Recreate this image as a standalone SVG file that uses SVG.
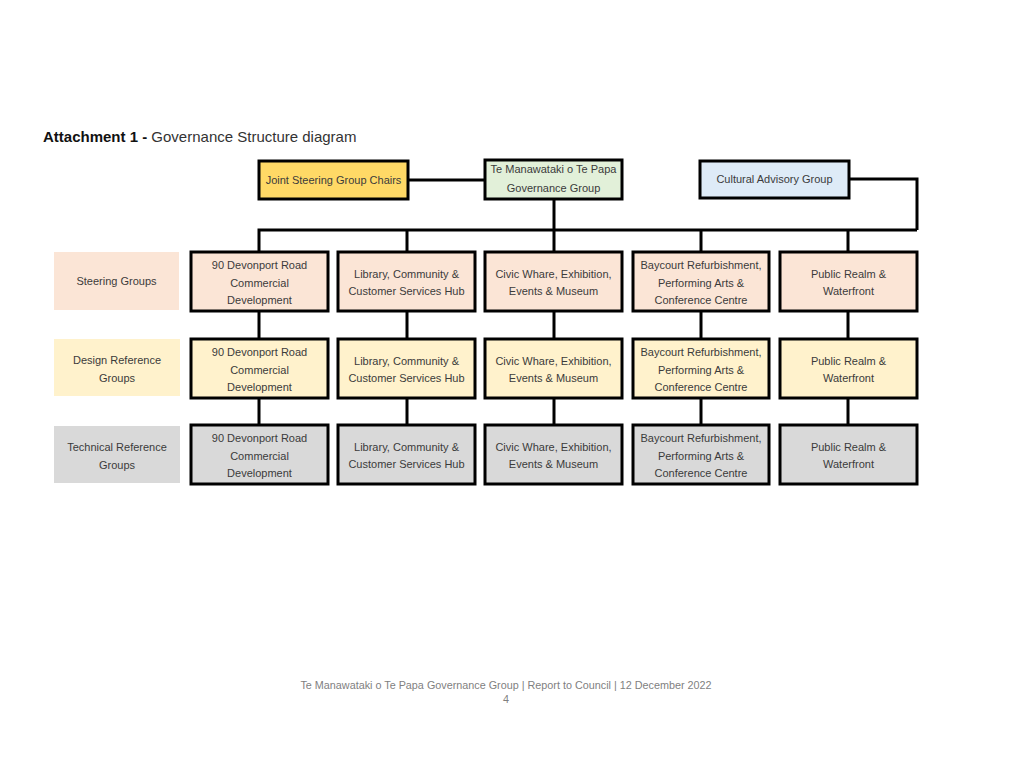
<svg xmlns="http://www.w3.org/2000/svg" width="1013" height="782" viewBox="0 0 1013 782">
<style>
.box{stroke:#000;stroke-width:3}
.lbl{stroke:none}
.st{fill:#FBE5D6}
.ds{fill:#FFF2CC}
.tc{fill:#D9D9D9}
.t{font-family:"Liberation Sans",Arial,sans-serif;font-size:11px;fill:#3b3b3b;text-anchor:middle}
.conn{fill:none;stroke:#000;stroke-width:3;stroke-linejoin:miter}
.foot{font-family:"Liberation Sans",Arial,sans-serif;font-size:10.8px;fill:#7f7f7f;text-anchor:middle}
</style>
<rect width="1013" height="782" fill="#fff"/>
<text x="43" y="142" font-family="Liberation Sans,Arial,sans-serif" font-size="15" fill="#000"><tspan font-weight="bold" fill="#111">Attachment 1 -</tspan><tspan fill="#333"> Governance Structure diagram</tspan></text>

<g id="connectors">
<path class="conn" d="M408 180H485"/>
<path class="conn" d="M554 199V230"/>
<path class="conn" d="M849 179H917V230"/>
<path class="conn" d="M259 252V230H917"/>
<path class="conn" d="M407 230V252M554 230V252M701 230V252M848 230V252"/>
<path class="conn" d="M259 311V339M407 311V339M554 311V339M701 311V339M848 311V339"/>
<path class="conn" d="M259 398V425M407 398V425M554 398V425M701 398V425M848 398V425"/>
</g>

<g id="joint-steering">
<rect class="box" x="259" y="161" width="149" height="38" fill="#FFD966"/>
<text class="t" x="333.5" y="184">Joint Steering Group Chairs</text>
</g>
<g id="governance-group">
<rect class="box" x="485" y="160" width="137" height="39" fill="#E2F0D9"/>
<text class="t" x="553.5" y="173">Te Manawataki o Te Papa</text>
<text class="t" x="553.5" y="192">Governance Group</text>
</g>
<g id="cultural-advisory">
<rect class="box" x="700" y="161" width="149" height="37" fill="#DEEBF7"/>
<text class="t" x="774.5" y="183">Cultural Advisory Group</text>
</g>

<g id="label-steering">
<rect class="lbl st" x="54" y="252" width="125" height="58"/>
<text class="t" x="116.5" y="285">Steering Groups</text>
</g>
<g id="label-design">
<rect class="lbl ds" x="54" y="339" width="126" height="57"/>
<text class="t" x="117" y="364">Design Reference</text>
<text class="t" x="117" y="382">Groups</text>
</g>
<g id="label-technical">
<rect class="lbl tc" x="54" y="426" width="126" height="57"/>
<text class="t" x="117" y="451">Technical Reference</text>
<text class="t" x="117" y="469">Groups</text>
</g>

<!-- Steering row -->
<g id="steer-90-devonport">
<rect class="box st" x="191" y="252" width="137" height="59"/>
<text class="t" x="259.5" y="269">90 Devonport Road</text>
<text class="t" x="259.5" y="286.5">Commercial</text>
<text class="t" x="259.5" y="304">Development</text>
</g>
<g id="steer-library">
<rect class="box st" x="338" y="252" width="137" height="59"/>
<text class="t" x="406.5" y="278">Library, Community &amp;</text>
<text class="t" x="406.5" y="295">Customer Services Hub</text>
</g>
<g id="steer-civic">
<rect class="box st" x="485" y="252" width="137" height="59"/>
<text class="t" x="553.5" y="278">Civic Whare, Exhibition,</text>
<text class="t" x="553.5" y="295">Events &amp; Museum</text>
</g>
<g id="steer-baycourt">
<rect class="box st" x="633" y="252" width="136" height="59"/>
<text class="t" x="701" y="269">Baycourt Refurbishment,</text>
<text class="t" x="701" y="286.5">Performing Arts &amp;</text>
<text class="t" x="701" y="304">Conference Centre</text>
</g>
<g id="steer-public-realm">
<rect class="box st" x="780" y="252" width="137" height="59"/>
<text class="t" x="848.5" y="278">Public Realm &amp;</text>
<text class="t" x="848.5" y="295">Waterfront</text>
</g>

<!-- Design row -->
<g id="design-90-devonport">
<rect class="box ds" x="191" y="339" width="137" height="59"/>
<text class="t" x="259.5" y="356">90 Devonport Road</text>
<text class="t" x="259.5" y="373.5">Commercial</text>
<text class="t" x="259.5" y="391">Development</text>
</g>
<g id="design-library">
<rect class="box ds" x="338" y="339" width="137" height="59"/>
<text class="t" x="406.5" y="365">Library, Community &amp;</text>
<text class="t" x="406.5" y="382">Customer Services Hub</text>
</g>
<g id="design-civic">
<rect class="box ds" x="485" y="339" width="137" height="59"/>
<text class="t" x="553.5" y="365">Civic Whare, Exhibition,</text>
<text class="t" x="553.5" y="382">Events &amp; Museum</text>
</g>
<g id="design-baycourt">
<rect class="box ds" x="633" y="339" width="136" height="59"/>
<text class="t" x="701" y="356">Baycourt Refurbishment,</text>
<text class="t" x="701" y="373.5">Performing Arts &amp;</text>
<text class="t" x="701" y="391">Conference Centre</text>
</g>
<g id="design-public-realm">
<rect class="box ds" x="780" y="339" width="137" height="59"/>
<text class="t" x="848.5" y="365">Public Realm &amp;</text>
<text class="t" x="848.5" y="382">Waterfront</text>
</g>

<!-- Technical row -->
<g id="tech-90-devonport">
<rect class="box tc" x="191" y="425" width="137" height="59"/>
<text class="t" x="259.5" y="442">90 Devonport Road</text>
<text class="t" x="259.5" y="459.5">Commercial</text>
<text class="t" x="259.5" y="477">Development</text>
</g>
<g id="tech-library">
<rect class="box tc" x="338" y="425" width="137" height="59"/>
<text class="t" x="406.5" y="451">Library, Community &amp;</text>
<text class="t" x="406.5" y="468">Customer Services Hub</text>
</g>
<g id="tech-civic">
<rect class="box tc" x="485" y="425" width="137" height="59"/>
<text class="t" x="553.5" y="451">Civic Whare, Exhibition,</text>
<text class="t" x="553.5" y="468">Events &amp; Museum</text>
</g>
<g id="tech-baycourt">
<rect class="box tc" x="633" y="425" width="136" height="59"/>
<text class="t" x="701" y="442">Baycourt Refurbishment,</text>
<text class="t" x="701" y="459.5">Performing Arts &amp;</text>
<text class="t" x="701" y="477">Conference Centre</text>
</g>
<g id="tech-public-realm">
<rect class="box tc" x="780" y="425" width="137" height="59"/>
<text class="t" x="848.5" y="451">Public Realm &amp;</text>
<text class="t" x="848.5" y="468">Waterfront</text>
</g>

<text class="foot" x="506" y="689">Te Manawataki o Te Papa Governance Group | Report to Council | 12 December 2022</text>
<text class="foot" x="506" y="703">4</text>
</svg>
